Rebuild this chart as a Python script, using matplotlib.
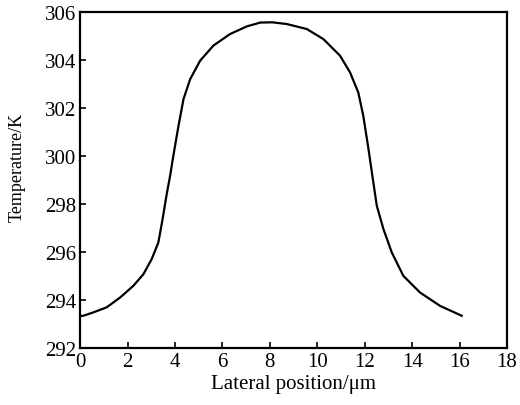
import matplotlib
matplotlib.use("Agg")
import matplotlib.pyplot as plt

# values
position = [0.0, 0.14, 0.56, 1.12, 1.69, 2.25, 2.67, 3.02, 3.30, 3.48, 3.65,
            3.80, 3.93, 4.15, 4.36, 4.64, 5.06, 5.62, 6.32, 7.03, 7.6, 8.1,
            8.71, 9.56, 10.26, 10.96, 11.38, 11.73, 11.94, 12.16, 12.35,
            12.51, 12.79, 13.14, 13.63, 14.33, 15.18, 16.09]
temperature = [293.34, 293.35, 293.49, 293.70, 294.11, 294.6, 295.08, 295.71,
               296.4, 297.38, 298.4, 299.2, 300.0, 301.26, 302.37, 303.2,
               303.97, 304.6, 305.08, 305.4, 305.56, 305.57, 305.5, 305.29,
               304.87, 304.18, 303.49, 302.65, 301.68, 300.29, 299.0, 297.93,
               296.96, 295.99, 295.01, 294.32, 293.76, 293.35]

plt.rcParams["font.family"] = ["Liberation Serif", "DejaVu Serif"]

fig = plt.figure(figsize=(5.2, 4.06), dpi=100)
ax = fig.add_axes([0.154, 0.140, 0.821, 0.828])

ax.plot(position, temperature, color="black", linewidth=1.6,
        solid_joinstyle="round")

ax.set_xlim(0, 18)
ax.set_ylim(292, 306)
ax.set_xticks(range(0, 19, 2))
ax.set_yticks(range(292, 307, 2))
ax.tick_params(direction="in", length=4, width=1.2, labelsize=15,
               top=False, right=False, pad=3)
for s in ax.spines.values():
    s.set_linewidth(1.6)

ax.set_xlabel("Lateral position/\u03bcm", fontsize=15, labelpad=2)
ax.set_ylabel("Temperature/K", fontsize=13)
ax.yaxis.set_label_coords(-0.128, 0.54)

fig.savefig("out.png", dpi=100)
